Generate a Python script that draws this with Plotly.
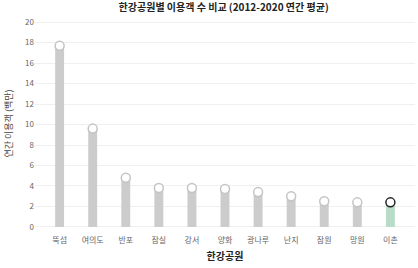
import plotly.graph_objects as go

parks = ["뚝섬", "여의도", "반포", "잠실", "강서", "양화", "광나루", "난지", "잠원", "망원", "이촌"]
visitors = [17.7, 9.6, 4.8, 3.8, 3.8, 3.7, 3.4, 3.0, 2.5, 2.4, 2.4]
highlight = "이촌"

bar_colors = ["#b9dcc9" if p == highlight else "#cccccc" for p in parks]
marker_lines = ["#222222" if p == highlight else "#c4c4c4" for p in parks]

fig = go.Figure()
fig.add_trace(go.Bar(
    x=parks, y=visitors, width=0.27,
    marker=dict(color=bar_colors, line=dict(width=0)),
    showlegend=False, hoverinfo="skip",
))
fig.add_trace(go.Scatter(
    x=parks, y=visitors, mode="markers",
    marker=dict(size=9, color="white", line=dict(color=marker_lines, width=1.5)),
    showlegend=False,
))

font = "Noto Sans CJK KR"
fig.update_layout(
    width=418, height=268,
    margin=dict(l=35, r=3, t=17, b=38),
    paper_bgcolor="white", plot_bgcolor="white",
    font=dict(family=font, size=9, color="#555"),
    title=dict(text="<b>한강공원별 이용객 수 비교 (2012-2020 연간 평균)</b>",
               x=0.535, xanchor="center", y=0.985, yanchor="top",
               font=dict(size=10, color="#222", family=font)),
    xaxis=dict(title=dict(text="<b>한강공원</b>", font=dict(size=10, color="#222"), standoff=8),
               showgrid=False, showline=False, ticks="", ticklabelstandoff=4,
               tickfont=dict(size=8, color="#666")),
    yaxis=dict(title=dict(text="연간 이용객 (백만)", font=dict(size=9, color="#444"), standoff=10),
               range=[-0.3, 20.5], dtick=2, showgrid=True, gridcolor="#f0f0f0",
               zeroline=False, showline=False, ticks="", tickfont=dict(size=8, color="#666")),
    bargap=0.7,
)
fig.write_html("out.html")
